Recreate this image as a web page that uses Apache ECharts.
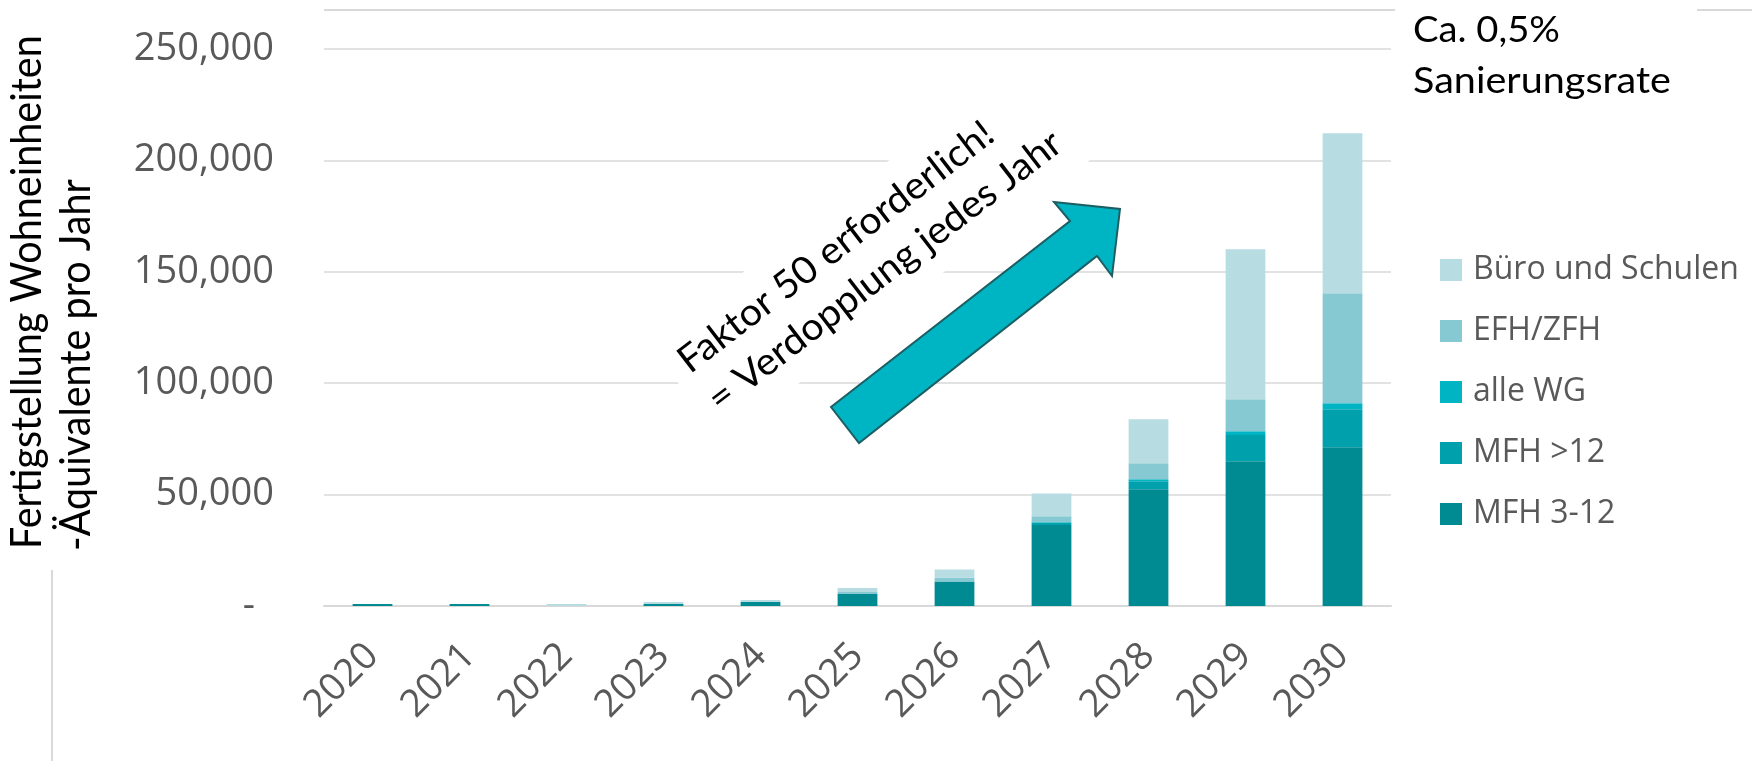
<!DOCTYPE html>
<html>
<head>
<meta charset="utf-8">
<script src="https://cdn.jsdelivr.net/npm/echarts@6/dist/echarts.min.js"></script>
<style>
html,body{margin:0;padding:0;background:#fff;}
#chart{width:1752px;height:761px;}
</style>
</head>
<body>
<div id="chart"></div>
<script>
// ---- data ----
const years = ['2020','2021','2022','2023','2024','2025','2026','2027','2028','2029','2030'];
const mfh312 = [900, 900, 0, 900, 1800, 5400, 11000, 36300, 52400, 65000, 71200];
const mfh12  = [0, 0, 0, 0, 0, 0, 0, 1000, 3600, 11700, 17100];
const alleWG = [0, 0, 0, 0, 0, 0, 0, 300, 900, 1700, 2700];
const efhZfh = [0, 0, 0, 0, 0, 900, 1800, 2700, 7200, 14400, 49400];
const buero  = [0, 0, 900, 900, 900, 1800, 3600, 10200, 19700, 67300, 71800];
const seriesNames = ['MFH 3-12', 'MFH >12', 'alle WG', 'EFH/ZFH', 'Büro und Schulen'];
const yTicks = [0, 50000, 100000, 150000, 200000, 250000];
const yTitle1 = 'Fertigstellung Wohneinheiten';
const yTitle2 = '-Äquivalente pro Jahr';
const noteLines = ['Ca. 0,5%', 'Sanierungsrate'];
const arrowLines = ['Faktor 50 erforderlich!', '= Verdopplung jedes Jahr'];

const colors = ['#008A92', '#00A1AD', '#00B4C3', '#86C9D3', '#B7DDE3'];
const seriesData = [mfh312, mfh12, alleWG, efhZfh, buero];

// text measuring helper
const ctx = document.createElement('canvas').getContext('2d');
function measure(t, size, fam) { ctx.font = size + 'px ' + fam; return ctx.measureText(t).width; }

// y title sizing
const titleFs = 40 * 514 / measure(yTitle1, 40, 'Lato');
const thick = 30 / (0.72 * titleFs);

// note sizing
const noteFs = 36;
const noteScale1 = 147 / measure(noteLines[0], noteFs, 'Lato');
const noteScale2 = 258 / measure(noteLines[1], noteFs, 'Lato');

// arrow text sizing
const arrFs = 38;
const arrScale = 435 / measure(arrowLines[1], arrFs, 'Lato');
const theta = 37.5 * Math.PI / 180;

const chart = echarts.init(document.getElementById('chart'));
const option = {
  animation: false,
  backgroundColor: '#fff',
  grid: {left: 324, right: 361, top: 49, bottom: 155},
  legend: {
    orient: 'vertical',
    left: 1435,
    top: 249,
    itemWidth: 22,
    itemHeight: 22,
    itemGap: 29,
    icon: 'rect',
    data: seriesNames.slice().reverse(),
    textStyle: {fontFamily: 'Open Sans', fontSize: 32, color: '#595959', padding: [0,0,0,6]}
  },
  xAxis: {
    type: 'category',
    data: years,
    axisLine: {lineStyle: {color: '#D9D9D9', width: 2}},
    axisTick: {show: false},
    axisLabel: {rotate: 45, margin: 44, fontFamily: 'Open Sans', fontSize: 38, color: '#595959', interval: 0}
  },
  yAxis: {
    type: 'value',
    min: yTicks[0],
    max: yTicks[yTicks.length - 1],
    interval: 50000,
    axisLine: {show: false},
    axisTick: {show: false},
    splitLine: {lineStyle: {color: '#D9D9D9', width: 1.5}},
    axisLabel: {
      margin: 50,
      fontFamily: 'Open Sans', fontSize: 38, color: '#595959',
      formatter: v => v === 0 ? '{d|-}' : v.toLocaleString('en-US'),
      rich: {d: {fontFamily: 'Open Sans', fontSize: 38, color: '#595959', padding: [0, 19, 0, 0]}}
    }
  },
  series: seriesNames.map((n, i) => ({
    name: n,
    type: 'bar',
    stack: 'total',
    barWidth: '41%',
    itemStyle: {color: colors[i]},
    data: seriesData[i]
  })),
  graphic: [
    // slide frame lines
    {type: 'line', z: 50, shape: {x1: 324, y1: 10, x2: 1395, y2: 10}, style: {stroke: '#D9D9D9', lineWidth: 2}},
    {type: 'line', z: 50, shape: {x1: 1697, y1: 10, x2: 1752, y2: 10}, style: {stroke: '#D9D9D9', lineWidth: 2}},
    {type: 'line', z: 50, shape: {x1: 52, y1: 570, x2: 52, y2: 761}, style: {stroke: '#D9D9D9', lineWidth: 2}},
    // y title
    {type: 'text', z: 50, x: 28, y: 549, rotation: Math.PI / 2, scaleY: thick,
      style: {text: yTitle1, fontFamily: 'Lato', fontSize: titleFs, fill: '#000', align: 'left', verticalAlign: 'middle'}},
    {type: 'text', z: 50, x: 77, y: 551, rotation: Math.PI / 2, scaleY: thick,
      style: {text: yTitle2, fontFamily: 'Lato', fontSize: titleFs, fill: '#000', align: 'left', verticalAlign: 'middle'}},
    // note top right
    {type: 'text', z: 50, x: 1413, y: 30, scaleX: noteScale1,
      style: {text: noteLines[0], fontFamily: 'Lato', fontSize: noteFs, fill: '#000', align: 'left', verticalAlign: 'middle'}},
    {type: 'text', z: 50, x: 1413, y: 81, scaleX: noteScale2,
      style: {text: noteLines[1], fontFamily: 'Lato', fontSize: noteFs, fill: '#000', align: 'left', verticalAlign: 'middle'}},
    // arrow annotation text (left aligned, white box)
    {type: 'text', z: 60, x: 686, y: 393, rotation: theta, scaleX: arrScale,
      style: {text: arrowLines.join('\n'), fontFamily: 'Lato', fontSize: arrFs, lineHeight: 49, fill: '#000',
        align: 'left', verticalAlign: 'middle', backgroundColor: '#fff', padding: [12, 14]}},
    // arrow
    {type: 'polygon', z: 70,
      shape: {points: [[831, 407], [1070, 221], [1054, 202], [1120, 209], [1112, 276], [1097, 256], [859, 443]]},
      style: {fill: '#00B5C3', stroke: '#1D5E63', lineWidth: 2}}
  ]
};
chart.setOption(option);
</script>
</body>
</html>
